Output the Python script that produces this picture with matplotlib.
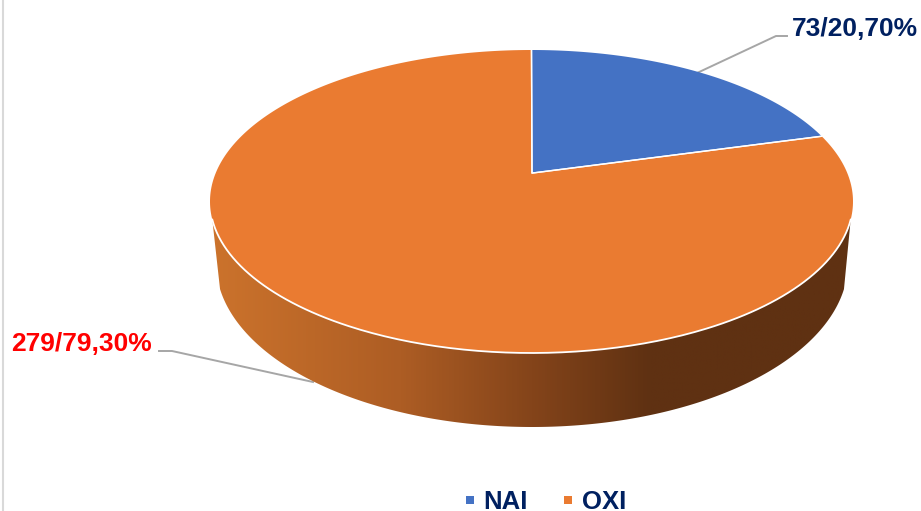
import numpy as np
import matplotlib
matplotlib.use('Agg')
import matplotlib.pyplot as plt
from matplotlib.colors import LinearSegmentedColormap
from matplotlib.patches import Polygon

categories = ['NAI', 'OXI']
counts = [73, 279]
percent_labels = ['73/20,70%', '279/79,30%']
pie_colors = ['#4472C4', '#EA7B31']
side_stops = [(0.0, '#CC732C'), (0.295, '#AD5D24'), (0.5, '#84441A'), (0.684, '#5F3112'), (1.0, '#5F3112')]

plt.rcParams['font.family'] = ['Liberation Sans', 'DejaVu Sans']

fig = plt.figure(figsize=(9.21, 5.11), dpi=100)
ax = fig.add_axes([0, 0, 1, 1])

# top ellipse, the apex sits above its middle because of the perspective
cx, cy, rx, ry = 531.5, 201.5, 321.5, 151.5
apex_shift = 0.1875


def project(theta):
    # theta is clockwise from the top of the pie
    x, y = np.sin(theta), np.cos(theta)
    d = 1 + apex_shift * y
    u = x * np.sqrt(1 - apex_shift ** 2) / d
    v = (y + apex_shift) / d
    return cx + rx * u, cy - ry * v


# side wall, lower rim is a bit narrower than the top
low_cx, low_cy, low_rx, low_ry = 532, 263, 316, 164
t = np.linspace(np.pi - 0.16, 0.16, 200)
low_x = low_cx + low_rx * np.cos(t)
low_y = low_cy + low_ry * np.sin(t)
t_top = np.linspace(0.12, np.pi - 0.12, 200)
top_x = cx + rx * np.cos(t_top)
top_y = cy + ry * np.sin(t_top)
wall = np.column_stack([np.r_[low_x, top_x], np.r_[low_y, top_y]])
wall_patch = Polygon(wall, closed=True, facecolor='none', edgecolor='none')
ax.add_patch(wall_patch)
cmap = LinearSegmentedColormap.from_list('side', side_stops)
img = ax.imshow(np.linspace(0, 1, 512).reshape(1, -1), cmap=cmap, aspect='auto',
                extent=[210, 853, 430, 190], zorder=1)
img.set_clip_path(wall_patch)
ax.set_xlim(0, 921)
ax.set_ylim(511, 0)
ax.axis('off')

# top slices
apex = (cx + 0.5, cy - ry * apex_shift)
fractions = np.array(counts) / sum(counts)
start = 0.0
for frac, col in zip(fractions, pie_colors):
    th = np.linspace(start, start + frac * 2 * np.pi, 300)
    px, py = project(th)
    ax.fill(np.r_[apex[0], px], np.r_[apex[1], py], facecolor=col, edgecolor='none', zorder=2)
    # white lines along the two radii
    ax.plot([px[0], apex[0], px[-1]], [py[0], apex[1], py[-1]], color='white', lw=1.0, zorder=3)
    start += frac * 2 * np.pi

# white rim on the front only
ax.plot(top_x, top_y, color='white', lw=1.3, zorder=3)

# leader lines
ax.plot([697, 776, 787], [73, 36, 36], color='#A6A6A6', lw=1.4, zorder=1)
ax.plot([159, 172, 313], [351, 351, 382], color='#A6A6A6', lw=1.4, zorder=0.5)

ax.text(792, 29, percent_labels[0], color='#002060', fontsize=19, fontweight='bold',
        ha='left', va='center')
ax.text(11, 344, percent_labels[1], color='#FF0000', fontsize=19, fontweight='bold',
        ha='left', va='center')

# legend
for name, col, sq_x, txt_x in zip(categories, pie_colors, [466, 564], [483, 582]):
    ax.fill([sq_x, sq_x + 8, sq_x + 8, sq_x], [496, 496, 504, 504], color=col, lw=0)
    ax.text(txt_x, 509.3, name, color='#002060', fontsize=18.5, fontweight='bold',
            ha='left', va='baseline')

# frame line at the left edge
ax.plot([3, 3], [0, 511], color='#D9D9D9', lw=1.5)

fig.savefig('out.png', dpi=100)
